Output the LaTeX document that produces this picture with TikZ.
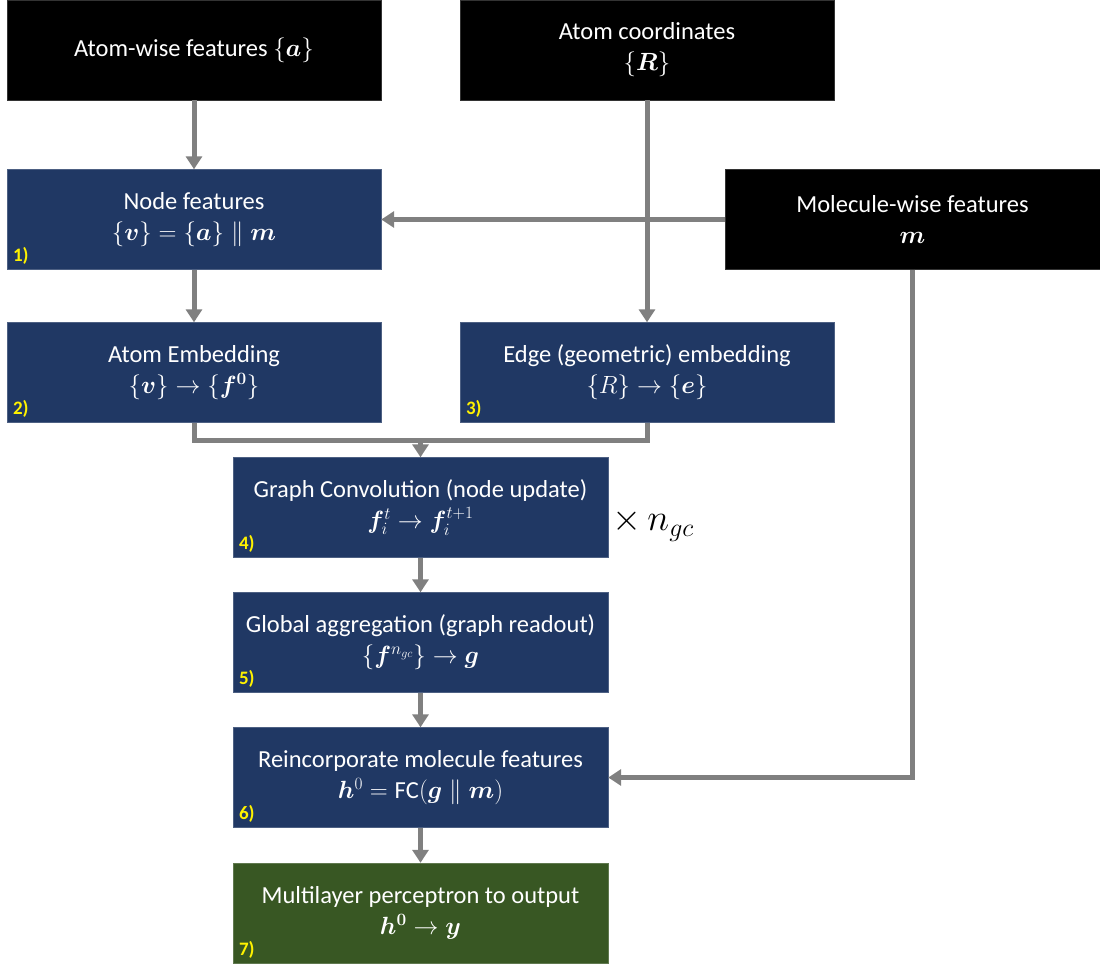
\documentclass[tikz,border=0pt]{standalone}
\usepackage{amsmath,bm}
\usepackage{fontspec}
\setmainfont{Carlito}
\usetikzlibrary{arrows.meta, positioning}
\definecolor{boxblue}{RGB}{32,56,100}
\definecolor{boxgreen}{RGB}{56,87,35}
\definecolor{linegray}{RGB}{128,128,128}
\tikzset{
    inbox/.style={draw=black!80, fill=black, text=white, minimum width=374pt, minimum height=100pt,
        inner sep=0pt, align=center, font=\fontsize{24.5}{31}\selectfont},
    stepbox/.style={inbox, draw=boxblue!80!white, fill=boxblue},
    outbox/.style={inbox, draw=boxgreen!80!white, fill=boxgreen},
    steplbl/.style={anchor=south west, text=yellow, inner sep=0pt, xshift=6pt, yshift=5pt,
        font=\fontsize{19}{19}\selectfont\bfseries},
    flow/.style={draw=linegray, line width=5pt},
    flowarr/.style={flow, -{Triangle[length=13pt,width=16pt]}}
}
\begin{document}
\begin{tikzpicture}[x=1pt, y=-1pt]
    \useasboundingbox (0,0) rectangle (1100,973);
    % inputs
    \node[inbox] (atoms) at (194,50) {Atom-wise features $\{\bm{a}\}$};
    \node[inbox] (coords) at (647,50) {Atom coordinates\\$\{\bm{R}\}$};
    \node[inbox, minimum width=375pt] (molf) at (912.5,219.5) {Molecule-wise features\\$\bm{m}$};
    % steps
    \node[stepbox] (nodef) at (194,219.5) {Node features\\$\{\bm{v}\} = \{\bm{a}\} \parallel \bm{m}$};
    \node[stepbox] (atome) at (194,372.5) {Atom Embedding\\$\{\bm{v}\} \rightarrow \{\bm{f}^{\bm{0}}\}$};
    \node[stepbox] (edgee) at (647,372.5) {Edge (geometric) embedding\\$\{R\} \rightarrow \{\bm{e}\}$};
    \node[stepbox, minimum width=375pt] (conv) at (420.5,507.5) {Graph Convolution (node update)\\$\bm{f}_i^t \rightarrow \bm{f}_i^{t+1}$};
    \node[stepbox, minimum width=375pt] (glob) at (420.5,642.5) {Global aggregation (graph readout)\\$\{\bm{f}^{n_{gc}}\} \rightarrow \bm{g}$};
    \node[stepbox, minimum width=375pt] (reinc) at (420.5,777.5) {Reincorporate molecule features\\$\bm{h}^0 = \mathrm{FC}(\bm{g} \parallel \bm{m})$};
    \node[outbox, minimum width=375pt] (mlp) at (420.5,913) {Multilayer perceptron to output\\$\bm{h}^{\bm{0}} \rightarrow \bm{y}$};
    \node[anchor=west, inner sep=0pt, font=\fontsize{24.5}{31}\selectfont] (rep) at (612,525) {\scalebox{1.5}{$\times\, n_{gc}$}};
    % step numbers
    \node[steplbl] (l1) at (nodef.south west) {1)};
    \node[steplbl] (l2) at (atome.south west) {2)};
    \node[steplbl] (l3) at (edgee.south west) {3)};
    \node[steplbl] (l4) at (conv.south west) {4)};
    \node[steplbl] (l5) at (glob.south west) {5)};
    \node[steplbl] (l6) at (reinc.south west) {6)};
    \node[steplbl] (l7) at (mlp.south west) {7)};
    % connectors
    \coordinate (merge) at (420.5,440);
    \draw[flowarr] (atoms) -- (nodef);
    \draw[flowarr] (molf) -- (nodef);
    \draw[flowarr] (coords) -- (edgee);
    \draw[flowarr] (nodef) -- (atome);
    \draw[flow] (atome.south) |- (merge) -| (edgee.south);
    \draw[flowarr] (merge) -- (conv.north);
    \draw[flowarr] (conv) -- (glob);
    \draw[flowarr] (glob) -- (reinc);
    \draw[flowarr] (reinc) -- (mlp);
    \draw[flowarr] (molf.south) |- (reinc.east);
\end{tikzpicture}
\end{document}
